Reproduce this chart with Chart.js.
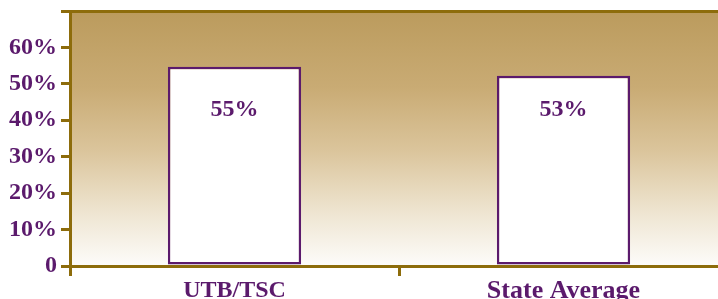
<!DOCTYPE html>
<html>
<head>
<meta charset="utf-8">
<script src="https://cdn.jsdelivr.net/npm/chart.js@4.4.0/dist/chart.umd.min.js"></script>
<style>
  body { margin: 0; overflow: hidden; background: #ffffff; }
</style>
</head>
<body>
<canvas id="rateChart" width="728" height="299"></canvas>
<script>
// values
var categories = ['UTB/TSC', 'State Average'];
var barValues = [54.7, 52.2];
var barLabels = ['55%', '53%'];
var yTicks = [0, 10, 20, 30, 40, 50, 60, 70];

var gold = '#8d6c0b';
var purple = '#5b1a6c';
var serif = "'Liberation Serif', 'Times New Roman', serif";

// tan to white fill behind the bars
var backgroundPlugin = {
  id: 'gradientBack',
  beforeDraw: function(chart) {
    var ctx = chart.ctx;
    var area = chart.chartArea;
    var grd = ctx.createLinearGradient(0, area.top, 0, area.bottom);
    grd.addColorStop(0, '#bb9b5d');
    grd.addColorStop(0.3, '#c9ab74');
    grd.addColorStop(0.55, '#dbc59c');
    grd.addColorStop(0.8, '#efe6d3');
    grd.addColorStop(1, '#fdfcfa');
    ctx.save();
    ctx.fillStyle = grd;
    ctx.fillRect(area.left, area.top, area.right - area.left, area.bottom - area.top);
    ctx.restore();
  }
};

// percent text inside each bar
var barTextPlugin = {
  id: 'barText',
  afterDatasetsDraw: function(chart) {
    var ctx = chart.ctx;
    var meta = chart.getDatasetMeta(0);
    var yPos = chart.scales.y.getPixelForValue(42.8);
    ctx.save();
    ctx.fillStyle = purple;
    ctx.font = 'bold 24px ' + serif;
    ctx.textAlign = 'center';
    ctx.textBaseline = 'middle';
    meta.data.forEach(function(bar, i) {
      ctx.fillText(barLabels[i], bar.x, yPos);
    });
    ctx.restore();
  }
};

var ctx = document.getElementById('rateChart').getContext('2d');
var myChart = new Chart(ctx, {
  type: 'bar',
  data: {
    labels: categories,
    datasets: [{
      data: barValues,
      backgroundColor: '#ffffff',
      borderColor: purple,
      borderWidth: 2.5,
      borderSkipped: false,
      barPercentage: 0.405,
      categoryPercentage: 1
    }]
  },
  options: {
    responsive: false,
    animation: false,
    layout: { padding: { top: 11, left: 0, right: 0, bottom: 0 } },
    plugins: {
      legend: { display: false },
      tooltip: { enabled: false },
      title: { display: false }
    },
    scales: {
      x: {
        offset: true,
        grid: {
          offset: true,
          drawOnChartArea: false,
          tickLength: 10,
          tickColor: gold,
          lineWidth: 3
        },
        border: { color: gold, width: 3 },
        ticks: {
          color: purple,
          padding: 0,
          font: function(c) {
            return { family: serif, size: c.index === 1 ? 26 : 24, weight: 'bold' };
          }
        },
        afterFit: function(scale) { scale.height = 33; }
      },
      y: {
        min: 0,
        max: 70,
        afterBuildTicks: function(scale) {
          scale.ticks = yTicks.map(function(v) { return { value: v }; });
        },
        grid: {
          tickLength: 9,
          tickColor: gold,
          lineWidth: 3,
          color: function(c) {
            return c.tick && c.tick.value === 70 ? gold : 'rgba(0,0,0,0)';
          }
        },
        border: { color: gold, width: 3 },
        ticks: {
          color: purple,
          padding: 4,
          font: { family: serif, size: 24, weight: 'bold' },
          callback: function(v) {
            if (v === 70) return '';
            if (v === 0) return '0';
            return v + '%';
          }
        },
        afterFit: function(scale) {
          scale.width = 70;
          scale.paddingTop = 0;
          scale.paddingBottom = 0;
        }
      }
    }
  },
  plugins: [backgroundPlugin, barTextPlugin]
});
</script>
</body>
</html>
